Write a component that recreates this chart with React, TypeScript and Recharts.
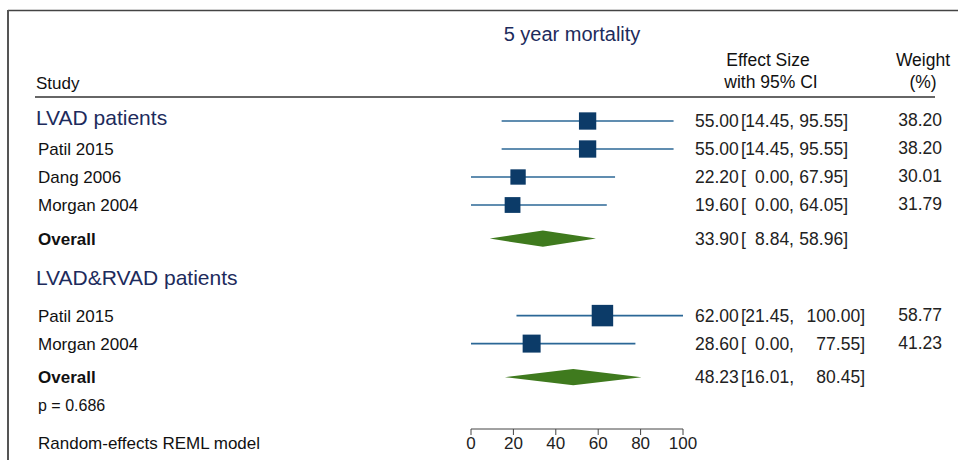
import React from "react";
import { ComposedChart, Scatter, Area, XAxis, YAxis, ErrorBar } from "recharts";

// rows, top to bottom
const studies = [
  "LVAD patients",
  "Patil 2015",
  "Dang 2006",
  "Morgan 2004",
  "Overall",
  "LVAD&RVAD patients",
  "Patil 2015",
  "Morgan 2004",
  "Overall",
  "p = 0.686",
];
const kinds = ["header", "study", "study", "study", "overall", "header", "study", "study", "overall", "note"];
const groups = [0, 0, 0, 0, 0, 1, 1, 1, 1, 1];
const effect = [55, 55, 22.2, 19.6, 33.9, null, 62, 28.6, 48.23, null];
const lower = [14.45, 14.45, 0, 0, 8.84, null, 21.45, 0, 16.01, null];
const upper = [95.55, 95.55, 67.95, 64.05, 58.96, null, 100, 77.55, 80.45, null];
const weights = [38.2, 38.2, 30.01, 31.79, null, null, 58.77, 41.23, null, null];
const xTicks = [0, 20, 40, 60, 80, 100];

const FONT = "'Liberation Sans', Arial, Helvetica, sans-serif";
const NAVY = "#1d2b5c";
const SQUARE = "#0c3b68";
const CI_LINE = "#2b6796";
const DIAMOND = "#3f7a1e";
const DIAMOND_HALF = 0.29; // half height of a diamond, in rows
const upperRight = [848, 865]; // right edge of the upper CI column per group

// vertical position of each row (row units), with extra room around overall/header rows
const rowPos: number[] = [];
kinds.forEach((k, i) => {
  if (i === 0) {
    rowPos.push(0);
    return;
  }
  let step = 1;
  if (k === "overall") step = 1.2;
  else if (k === "header") step = 1.5;
  else if (kinds[i - 1] === "header" && effect[i - 1] == null) step = 1.25;
  rowPos.push(rowPos[i - 1] + step);
});

const studyPoints = kinds
  .map((k, i) => ({ k, i }))
  .filter(({ i }) => weights[i] != null)
  .map(({ i }) => ({
    x: effect[i] as number,
    y: rowPos[i],
    err: [(effect[i] as number) - (lower[i] as number), (upper[i] as number) - (effect[i] as number)],
    w: weights[i] as number,
  }));

const diamonds = kinds
  .map((k, i) => ({ k, i }))
  .filter(({ k }) => k === "overall")
  .map(({ i }) => [
    { x: lower[i], band: [rowPos[i], rowPos[i]] },
    { x: effect[i], band: [rowPos[i] - DIAMOND_HALF, rowPos[i] + DIAMOND_HALF] },
    { x: upper[i], band: [rowPos[i], rowPos[i]] },
  ]);

const Square = (props: any) => {
  const { cx, cy, payload } = props;
  const s = 2.8 * Math.sqrt(payload.w);
  return <rect x={cx - s / 2} y={cy - s / 2} width={s} height={s} fill={SQUARE} />;
};

const Nothing = () => <g />;

const RowTick = (props: any) => {
  const { y, payload } = props;
  const i = rowPos.indexOf(payload.value);
  if (i < 0) return null;
  const k = kinds[i];
  const label =
    k === "header" ? (
      <text x={36} y={y - 3} dy="0.35em" fontSize={21} fill={NAVY}>
        {studies[i]}
      </text>
    ) : (
      <text
        x={38}
        y={y}
        dy="0.35em"
        fontSize={k === "note" ? 16 : 17}
        fontWeight={k === "overall" ? "bold" : "normal"}
        fill="#111"
      >
        {studies[i]}
      </text>
    );
  const hasEffect = effect[i] != null;
  return (
    <g>
      {label}
      {hasEffect && (
        <g fontSize={17.5} fill="#222">
          <text x={695} y={y} dy="0.35em">
            {(effect[i] as number).toFixed(2)}
          </text>
          <text x={741} y={y} dy="0.35em">
            [
          </text>
          <text x={794} y={y} dy="0.35em" textAnchor="end">
            {(lower[i] as number).toFixed(2) + ","}
          </text>
          <text x={upperRight[groups[i]]} y={y} dy="0.35em" textAnchor="end">
            {(upper[i] as number).toFixed(2) + "]"}
          </text>
        </g>
      )}
      {weights[i] != null && (
        <text x={942} y={y - 1} dy="0.35em" textAnchor="end" fontSize={17.5} fill="#222">
          {(weights[i] as number).toFixed(2)}
        </text>
      )}
    </g>
  );
};

export default function App() {
  return (
    <div style={{ position: "absolute", left: 0, top: 0, width: 958, height: 460, background: "#fff", fontFamily: FONT }}>
      <ComposedChart
        width={958}
        height={460}
        margin={{ top: 100, right: 275, bottom: 0, left: 0 }}
        style={{ fontFamily: FONT }}
      >
        <XAxis
          type="number"
          dataKey="x"
          domain={[0, 100]}
          ticks={xTicks}
          interval={0}
          allowDataOverflow
          height={31}
          tickSize={6}
          stroke="#444"
          tick={{ fontSize: 17, fill: "#222" }}
        />
        <YAxis
          type="number"
          dataKey="y"
          domain={[-0.75, 11]}
          reversed
          allowDataOverflow
          ticks={rowPos}
          interval={0}
          width={471}
          axisLine={false}
          tickLine={false}
          tick={(p: any) => <RowTick {...p} />}
        />
        {diamonds.map((d, j) => (
          <Area
            key={`diamond-${j}`}
            data={d}
            dataKey="band"
            type="linear"
            fill={DIAMOND}
            fillOpacity={1}
            stroke="none"
            dot={false}
            activeDot={false}
            isAnimationActive={false}
          />
        ))}
        <Scatter data={studyPoints} shape={<Nothing />} isAnimationActive={false}>
          <ErrorBar dataKey="err" direction="x" width={0} stroke={CI_LINE} strokeWidth={1.6} isAnimationActive={false} />
        </Scatter>
        <Scatter data={studyPoints} shape={<Square />} isAnimationActive={false} />
      </ComposedChart>

      <svg
        width={958}
        height={460}
        style={{ position: "absolute", left: 0, top: 0, pointerEvents: "none", fontFamily: FONT }}
      >
        <line x1={8} y1={10.5} x2={958} y2={10.5} stroke="#444" strokeWidth={1.5} />
        <line x1={8} y1={10} x2={8} y2={460} stroke="#555" strokeWidth={2} />
        <text x={572} y={34} dy="0.35em" textAnchor="middle" fontSize={20} fill={NAVY}>
          5 year mortality
        </text>
        <text x={36} y={83} dy="0.35em" fontSize={17} fill="#111">
          Study
        </text>
        <text x={768} y={60} dy="0.35em" textAnchor="middle" fontSize={17.5} fill="#111">
          Effect Size
        </text>
        <text x={771} y={82} dy="0.35em" textAnchor="middle" fontSize={17.5} fill="#111">
          with 95% CI
        </text>
        <text x={923} y={60} dy="0.35em" textAnchor="middle" fontSize={17.5} fill="#111">
          Weight
        </text>
        <text x={923} y={82} dy="0.35em" textAnchor="middle" fontSize={17.5} fill="#111">
          (%)
        </text>
        <line x1={35} y1={97} x2={935} y2={97} stroke="#333" strokeWidth={1.5} />
        <text x={38} y={443} dy="0.35em" fontSize={17} fill="#111">
          Random-effects REML model
        </text>
      </svg>
    </div>
  );
}
